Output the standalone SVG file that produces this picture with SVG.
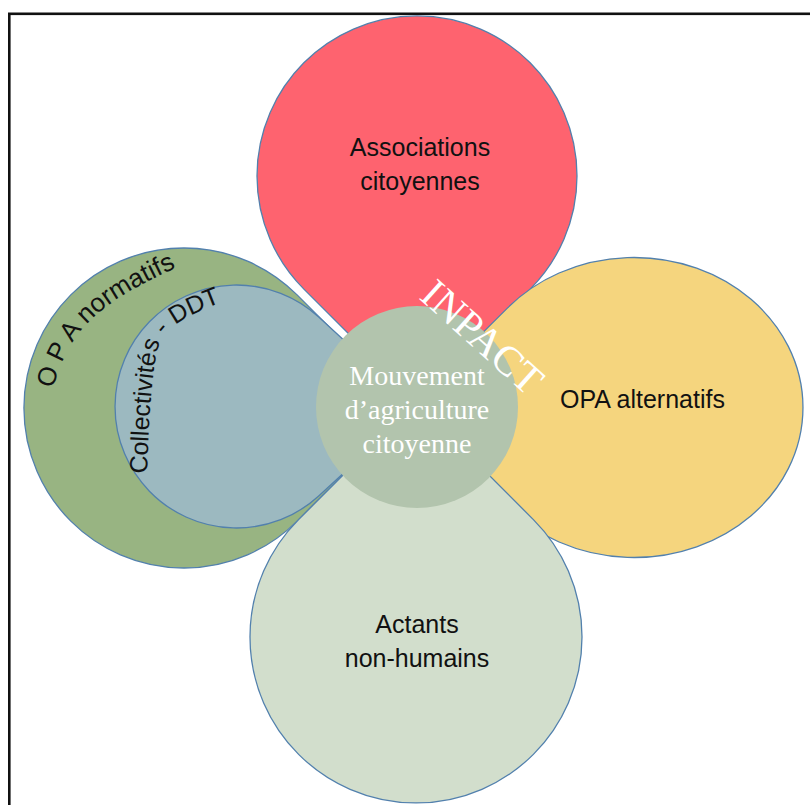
<svg xmlns="http://www.w3.org/2000/svg" width="810" height="805" viewBox="0 0 810 805">
  <style>
    .petal { stroke: #5280ad; stroke-width: 1.3; }
    .lbl { font-family: "Liberation Sans", Arial, sans-serif; font-size: 25px; fill: #111; text-anchor: middle; }
    .arc { font-family: "Liberation Sans", Arial, sans-serif; fill: #111; }
    .core { font-family: "Liberation Serif", "Times New Roman", serif; font-size: 28px; fill: #ffffff; text-anchor: middle; }
  </style>
  <defs>
    <!-- baselines for the curved labels -->
    <path id="arc-opa" d="M 52.9,389 C 71,321.4 109.4,298.7 181.9,264.9" fill="none"/>
    <path id="arc-coll" d="M 147,474 C 149,420 151,385 156,356 C 162,322 196,312 244,294" fill="none"/>
  </defs>

  <rect id="frame" x="9.3" y="13.8" width="900" height="900" fill="#ffffff" stroke="#111111" stroke-width="2.6"/>

  <g id="opa-normatifs">
    <path class="petal" fill="#98b482" d="M 297.1,521.1 L 410,408 L 297.1,294.9 A 160 160 0 1 0 297.1,521.1 Z"/>
    <text class="arc" font-size="26"><textPath href="#arc-opa">O P A normatifs</textPath></text>
  </g>

  <g id="collectivites">
    <path class="petal" fill="#9cb9c0" d="M 318.7,496 L 416,406.5 L 318.7,317 A 121.5 121.5 0 1 0 318.7,496 Z"/>
    <text class="arc" font-size="25"><textPath href="#arc-coll">Collectivités - DDT</textPath></text>
  </g>

  <g id="associations">
    <path class="petal" fill="#fe636f" d="M 530.1,289.1 L 417,402 L 303.9,289.1 A 160 160 0 1 1 530.1,289.1 Z"/>
    <text class="lbl" x="420" y="156">Associations</text>
    <text class="lbl" x="420" y="190">citoyennes</text>
  </g>

  <g id="opa-alternatifs">
    <path class="petal" fill="#f5d57e" d="M 407.75,407.25 L 507.6,307.9 A 169 150 0 1 1 507.6,507.1 Z"/>
    <text class="lbl" x="642.5" y="408">OPA alternatifs</text>
  </g>

  <g id="actants">
    <path class="petal" fill="#d2decc" d="M 298.6,519.6 L 416,402 L 533.4,519.6 A 166 166 0 1 1 298.6,519.6 Z"/>
    <text class="lbl" x="417" y="633">Actants</text>
    <text class="lbl" x="417" y="667">non-humains</text>
  </g>

  <g id="mouvement">
    <circle cx="417" cy="407" r="101" fill="#b2c4ad"/>
    <text class="core" x="417" y="385">Mouvement</text>
    <text class="core" x="417" y="419">d’agriculture</text>
    <text class="core" x="417" y="453">citoyenne</text>
  </g>

  <g id="connectors"></g>

  <text id="inpact" font-family="Liberation Serif, Times New Roman, serif" font-size="42" fill="#ffffff" transform="translate(418,298) rotate(42)">INPACT</text>
</svg>
